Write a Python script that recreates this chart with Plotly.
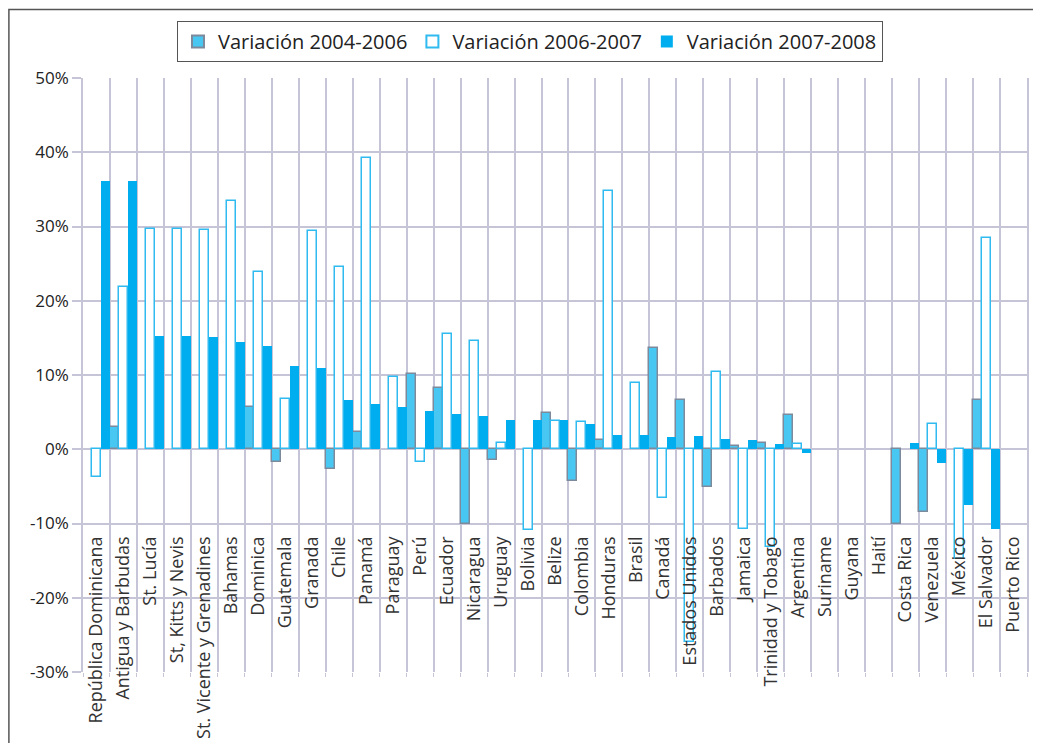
import plotly.graph_objects as go

paises = ["República Dominicana", "Antigua y Barbudas", "St. Lucía", "St, Kitts y Nevis",
          "St. Vicente y Grenadines", "Bahamas", "Dominica", "Guatemala", "Granada", "Chile",
          "Panamá", "Paraguay", "Perú", "Ecuador", "Nicaragua", "Uruguay", "Bolivia", "Belize",
          "Colombia", "Honduras", "Brasil", "Canadá", "Estados Unidos", "Barbados", "Jamaica",
          "Trinidad y Tobago", "Argentina", "Suriname", "Guyana", "Haití", "Costa Rica",
          "Venezuela", "México", "El Salvador", "Puerto Rico"]

var_2004_2006 = [None, 3.0, None, None, None, None, 5.7, -1.7, None, -2.6,
                 2.3, None, 10.2, 8.2, -10.1, -1.4, None, 4.9,
                 -4.3, 1.3, None, 13.6, 6.6, -5.1, 0.5,
                 0.8, 4.6, None, None, None, -10.1,
                 -8.5, None, 6.7, None]

var_2006_2007 = [-3.7, 21.9, 29.6, 29.6, 29.5, 33.4, 23.9, 6.8, 29.4, 24.5,
                 39.2, 9.7, -1.7, 15.5, 14.6, 0.8, -10.9, 3.8,
                 3.7, 34.8, 8.9, -6.6, -26.0, 10.4, -10.8,
                 -13.2, 0.7, None, None, None, None,
                 3.4, -14.8, 28.5, None]

var_2007_2008 = [36.1, 36.1, 15.2, 15.2, 15.1, 14.4, 13.9, 11.2, 10.9, 6.6,
                 6.1, 5.7, 5.2, 4.7, 4.5, 4.0, 4.0, 3.9,
                 3.4, 1.9, 1.9, 1.6, 1.8, 1.4, 1.3,
                 0.7, -0.5, None, None, None, 0.8,
                 -1.8, -7.5, -10.7, None]

y_ticks = [-30, -20, -10, 0, 10, 20, 30, 40, 50]
y_tick_labels = ["-30%", "-20%", "-10%", "0%", "10%", "20%", "30%", "40%", "50%"]

GRID = "#c6c5d8"
FONT = "Open Sans"

fig = go.Figure()
fig.add_trace(go.Bar(name="Variación 2004-2006", x=paises, y=var_2004_2006,
                     marker=dict(color="#48c7f2", line=dict(color="#7d8a9c", width=1.5))))
fig.add_trace(go.Bar(name="Variación 2006-2007", x=paises, y=var_2006_2007,
                     marker=dict(color="#ffffff", line=dict(color="#2fbaf0", width=1.5))))
fig.add_trace(go.Bar(name="Variación 2007-2008", x=paises, y=var_2007_2008,
                     marker=dict(color="#00aeef", line=dict(width=0))))
# invisible helper trace so the label axis (x2) is drawn
fig.add_trace(go.Bar(x=paises, y=[None] * len(paises), xaxis="x2", yaxis="y",
                     showlegend=False, hoverinfo="skip"))

fig.update_layout(
    width=1033, height=735,
    margin=dict(l=75, r=14, t=70, b=71),
    paper_bgcolor="white", plot_bgcolor="white",
    barmode="group", bargap=0, bargroupgap=0,
    font=dict(family=FONT, color="#333333"),
    showlegend=True,
    legend=dict(orientation="h", x=0.4735, xanchor="center", y=1.096, yanchor="top",
                font=dict(size=20, family=FONT, color="#222222"),
                bordercolor="#555555", borderwidth=1, bgcolor="white",
                itemsizing="constant", tracegroupgap=0),
    xaxis=dict(type="category", categoryorder="array", categoryarray=paises,
               tickson="boundaries", showgrid=True, gridcolor=GRID, gridwidth=1.5,
               ticks="outside", ticklen=4, tickcolor=GRID, showticklabels=False,
               showline=False, zeroline=False, range=[-0.5, 34.5], automargin=False),
    xaxis2=dict(type="category", categoryorder="array", categoryarray=paises,
                overlaying="x", anchor="free", position=0.236, range=[-0.5, 34.5],
                tickangle=-90, ticks="", showgrid=False, showline=False, zeroline=False,
                tickfont=dict(size=18, family=FONT, color="#333333"), automargin=False),
    yaxis=dict(range=[-30, 50], tickvals=y_ticks, ticktext=y_tick_labels,
               showgrid=True, gridcolor=GRID, gridwidth=1.5, zeroline=False,
               showline=True, mirror=True, linecolor=GRID, linewidth=1.5,
               ticks="outside", ticklen=9, tickcolor=GRID, tickwidth=1.5,
               tickfont=dict(size=17, family=FONT, color="#222222"), automargin=False),
    shapes=[dict(type="rect", xref="paper", yref="paper",
                 x0=-0.0785, x1=1.03, y0=-0.14, y1=1.1155,
                 line=dict(color="#555555", width=1.5), layer="below")],
)

fig.write_html("out.html")
